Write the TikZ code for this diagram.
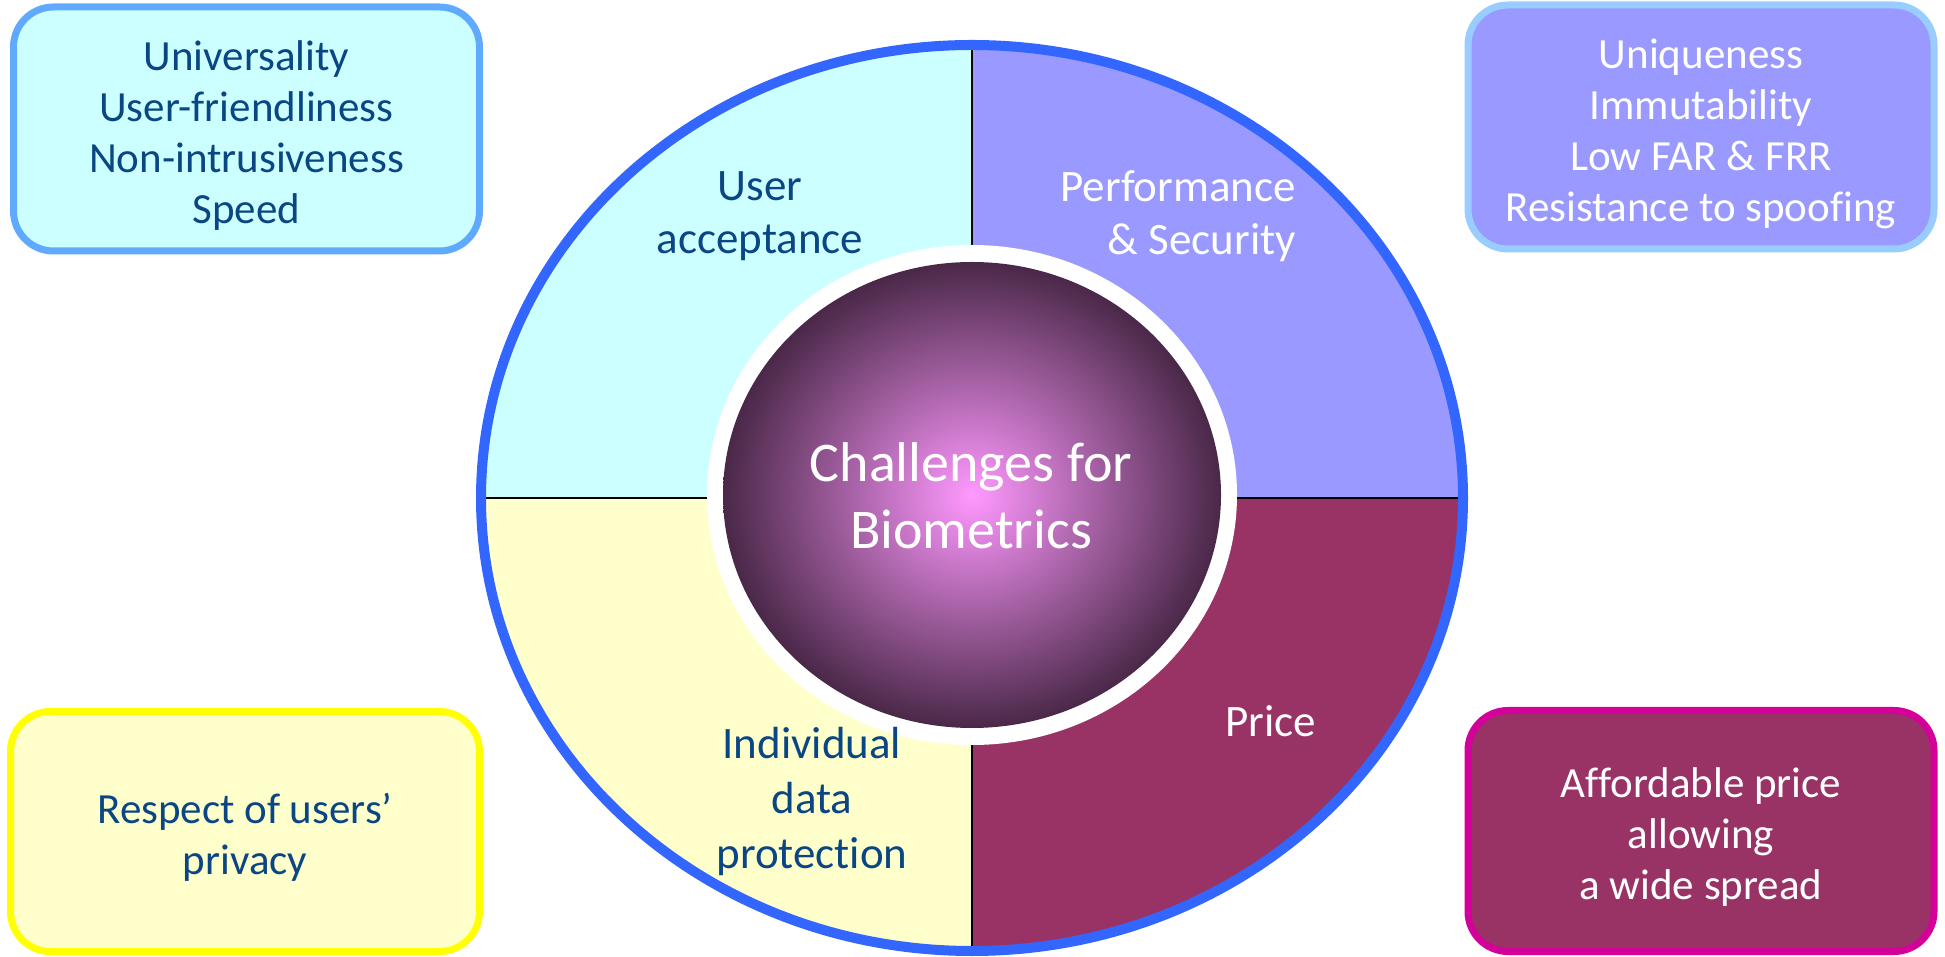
\documentclass[tikz,border=0pt]{standalone}
\usepackage{fontspec}
\setmainfont{Carlito}[Ligatures=NoCommon]
\usetikzlibrary{shapes.geometric}
\definecolor{txtblue}{RGB}{10,70,132}
\definecolor{qa}{RGB}{204,255,255}
\definecolor{qb}{RGB}{153,153,255}
\definecolor{qc}{RGB}{255,255,204}
\definecolor{qd}{RGB}{153,51,102}
\definecolor{ringblue}{RGB}{51,102,255}
\definecolor{bordA}{RGB}{95,170,255}
\definecolor{bordB}{RGB}{153,204,255}
\definecolor{bordC}{RGB}{255,255,0}
\definecolor{bordD}{RGB}{212,0,154}
\definecolor{spherein}{RGB}{255,153,255}
\definecolor{sphereout}{RGB}{74,40,72}
\tikzset{
  infobox/.style={rounded corners=40pt, line width=7pt, minimum width=466pt,
    minimum height=244pt, inner sep=0pt},
  boxtext/.style={align=center, inner sep=0pt, font=\fontsize{43}{51}\selectfont},
  quadlabel/.style={align=center, inner sep=0pt, font=\fontsize{45}{53}\selectfont},
  divider/.style={line width=2.5pt, black}
}
\begin{document}
\begin{tikzpicture}[x=1pt,y=1pt]
\useasboundingbox (0,0) rectangle (1945,956);
\coordinate (c) at (972,458);
\coordinate (top) at (972,956);
\coordinate (bot) at (972,0);
\coordinate (lft) at (400,458);
\coordinate (rgt) at (1600,458);
\begin{scope}
  \clip (c) ellipse [x radius=491pt, y radius=453pt];
  \fill[qa] (c) rectangle (400,956);
  \fill[qb] (c) rectangle (1600,956);
  \fill[qc] (c) rectangle (400,0);
  \fill[qd] (c) rectangle (1600,0);
  \draw[divider] (top) -- (bot);
  \draw[divider] (lft) -- (rgt);
\end{scope}
\node[ellipse, draw=ringblue, line width=10pt, minimum width=982pt,
  minimum height=906pt, inner sep=0pt] (ring) at (c) {};
\node[ellipse, fill=white, minimum width=530pt, minimum height=500pt,
  inner sep=0pt] (white) at (972,461) {};
\node[ellipse, inner color=spherein, outer color=sphereout, minimum width=498pt,
  minimum height=466pt, inner sep=0pt] (sphere) at (972,461) {};
\node[align=center, inner sep=0pt, text=white,
  font=\fontsize{56}{67}\selectfont] (title) at (971,460) {Challenges for\\Biometrics};

\node[quadlabel, text=txtblue] (ua) at (760,740) {User\\acceptance};
\node[quadlabel, text=white, align=right, anchor=east] (ps) at (1296,740) {Performance\\\& Security};
\node[quadlabel, text=white] (pr) at (1271,235) {Price};
\node[quadlabel, text=txtblue, font=\fontsize{45}{55}\selectfont] (idp) at (812,154) {Individual\\data\\protection};

\node[infobox, draw=bordA, fill=qa] (boxA) at (246.5,827) {};
\node[boxtext, text=txtblue] (boxAt) at ([yshift=-7pt]boxA.center)
  {Universality\\User-friendliness\\Non-intrusiveness\\Speed};
\node[infobox, draw=bordB, fill=qb] (boxB) at (1701,829) {};
\node[boxtext, text=white] (boxBt) at ([yshift=-7pt]boxB.center)
  {Uniqueness\\Immutability\\Low FAR \& FRR\\Resistance to spoofing};
\node[infobox, draw=bordC, fill=qc, minimum width=469pt,
  minimum height=240pt] (boxC) at (245,124.5) {};
\node[boxtext, text=txtblue] (boxCt) at ([yshift=-6pt]boxC.center)
  {Respect of users’\\privacy};
\node[infobox, draw=bordD, fill=qd, minimum height=241pt] (boxD) at (1701,125) {};
\node[boxtext, text=white] (boxDt) at ([yshift=-6pt]boxD.center)
  {Affordable price\\allowing\\a wide spread};
\end{tikzpicture}
\end{document}
